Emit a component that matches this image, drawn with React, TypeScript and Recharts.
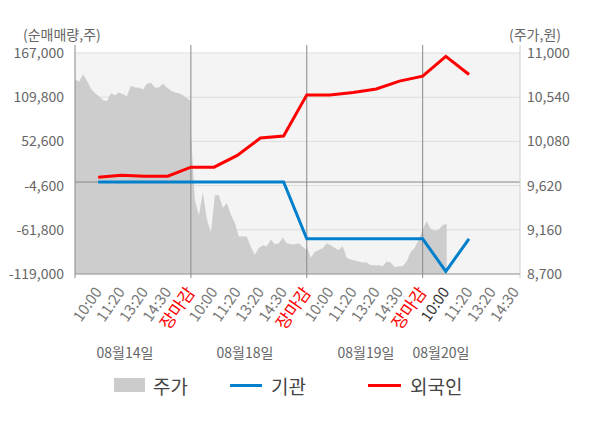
import { ComposedChart, Area, Line, XAxis, YAxis, CartesianGrid, ReferenceLine } from "recharts"

// x position is in "slots": each trading day spans 5 slots (open -> 10:00 -> 11:20 -> 13:20 -> 14:30 -> 장마감)
const dayStarts = [0, 5, 10, 15]
const xEnd = 19.2
const xTickSlots = [1, 2, 3, 4, 5, 6, 7, 8, 9, 10, 11, 12, 13, 14, 15, 16, 17, 18, 19]
const xTickLabels = [
  "10:00", "11:20", "13:20", "14:30", "장마감",
  "10:00", "11:20", "13:20", "14:30", "장마감",
  "10:00", "11:20", "13:20", "14:30", "장마감",
  "10:00", "11:20", "13:20", "14:30",
]
const dateLabels = ["08월14일", "08월18일", "08월19일", "08월20일"]

const volumeTicks = [-119000, -61800, -4600, 52600, 109800, 167000]
const priceTicks = [8700, 9160, 9620, 10080, 10540, 11000]

// intraday price (주가), sampled evenly through each session
const price0814 = [10730, 10700, 10780, 10710, 10630, 10580, 10550, 10510, 10500, 10580, 10560, 10590, 10570, 10550, 10660, 10640, 10640, 10620, 10680, 10690, 10640, 10640, 10680, 10640, 10610, 10590, 10580, 10560, 10530, 10500]
const price0818 = [10190, 9470, 9310, 9550, 9270, 9130, 9520, 9520, 9390, 9440, 9320, 9230, 9090, 9090, 9090, 8980, 8900, 8970, 9000, 8990, 9060, 9010, 9020, 9080, 9020, 9010, 9010, 9020, 8980, 8950]
const price0819 = [8990, 8870, 8930, 8950, 8970, 9020, 9000, 8970, 8950, 8990, 8870, 8850, 8840, 8830, 8820, 8820, 8790, 8790, 8790, 8780, 8830, 8820, 8770, 8780, 8780, 8830, 8930, 8970, 9060, 9160]
const price0820 = [9160, 9250, 9170, 9150, 9160, 9210, 9220]
const samplesPerSession = 30

// cumulative net buying (순매매량)
const flowSlots = [1, 2, 3, 4, 5, 6, 7, 8, 9, 10, 11, 12, 13, 14, 15, 16, 17]
const institution = [0, 0, 0, 0, 0, 0, 0, 0, 0, -73500, -73500, -73500, -73500, -73500, -73500, -115500, -73500]
const foreign = [6200, 8800, 7500, 7500, 19200, 19200, 34500, 57000, 59500, 112800, 112600, 116000, 120500, 130600, 137100, 162600, 139200]

const priceData = [price0814, price0818, price0819, price0820].flatMap((day, d) =>
  day.map((p, i) => ({ k: dayStarts[d] + (i * 5) / (samplesPerSession - 1), price: p }))
)
const institutionData = flowSlots.map((k, i) => ({ k, value: institution[i] }))
const foreignData = flowSlots.map((k, i) => ({ k, value: foreign[i] }))

const FONT = '"Noto Sans CJK KR", "Noto Sans", sans-serif'

const XTick = (props: any) => {
  const { x, y, payload } = props
  const idx = xTickSlots.indexOf(payload.value)
  const label = xTickLabels[idx]
  const isClose = label === "장마감"
  const color = isClose ? "#ff0000" : idx === 15 ? "#333333" : "#777777"
  return (
    <g transform={`translate(${x},${y + 15})`}>
      <text
        textAnchor="end"
        transform="rotate(-55)"
        fontSize={isClose ? 17 : 15}
        fill={color}
        dy="0.35em"
        fontFamily={FONT}
      >
        {label}
      </text>
    </g>
  )
}

const divider = (color: string) => (p: any) => {
  const top = Math.min(p.y1, p.y2)
  const bottom = Math.max(p.y1, p.y2)
  return <line x1={p.x1} x2={p.x2} y1={top - 8} y2={bottom + 4} stroke={color} strokeWidth={1} />
}

export default function App() {
  return (
    <div style={{ position: "absolute", left: 0, top: 0, width: 600, height: 428, fontFamily: FONT, background: "#fff" }}>
      <div style={{ position: "absolute", left: 23, top: 24, fontSize: 14, color: "#666" }}>(순매매량,주)</div>
      <div style={{ position: "absolute", left: 509, top: 24, fontSize: 14, color: "#666" }}>(주가,원)</div>

      <ComposedChart width={600} height={428} margin={{ top: 53, right: 0, bottom: 0, left: 0 }}>
        <CartesianGrid yAxisId="left" vertical={false} stroke="#dddddd" fill="#f4f4f4" />
        <XAxis
          dataKey="k"
          type="number"
          domain={[0, xEnd]}
          ticks={xTickSlots}
          interval={0}
          allowDataOverflow
          height={154}
          tickLine={false}
          tickSize={0}
          tickMargin={0}
          axisLine={{ stroke: "#999999" }}
          tick={<XTick />}
        />
        <YAxis
          yAxisId="left"
          width={75}
          domain={[-119000, 167000]}
          ticks={volumeTicks}
          interval={0}
          axisLine={false}
          tickLine={false}
          tickMargin={5}
          tick={{ fill: "#666666", fontSize: 14, fontFamily: FONT }}
          tickFormatter={(v) => v.toLocaleString("en-US")}
        />
        <YAxis
          yAxisId="right"
          orientation="right"
          width={80}
          domain={[8700, 11000]}
          ticks={priceTicks}
          interval={0}
          axisLine={false}
          tickLine={false}
          tickMargin={1}
          tick={{ fill: "#666666", fontSize: 14, fontFamily: FONT, textAnchor: "start" }}
          tickFormatter={(v) => v.toLocaleString("en-US")}
        />
        <Area
          yAxisId="right"
          data={priceData}
          dataKey="price"
          type="linear"
          stroke="none"
          fill="#cdcdcd"
          fillOpacity={1}
          isAnimationActive={false}
        />
        <ReferenceLine yAxisId="left" y={0} stroke="#888888" />
        {dayStarts.map((d) => (
          <ReferenceLine key={d} yAxisId="left" x={d} shape={divider("#888888")} />
        ))}
        <ReferenceLine yAxisId="left" x={xEnd} shape={divider("#d0d0d0")} />
        <Line
          yAxisId="left"
          data={institutionData}
          dataKey="value"
          type="linear"
          stroke="#0080cc"
          strokeWidth={3}
          dot={false}
          isAnimationActive={false}
        />
        <Line
          yAxisId="left"
          data={foreignData}
          dataKey="value"
          type="linear"
          stroke="#ff0000"
          strokeWidth={3}
          dot={false}
          isAnimationActive={false}
        />
      </ComposedChart>

      {dateLabels.map((t, i) => (
        <div
          key={t}
          style={{
            position: "absolute",
            left: [125, 245, 366, 441][i],
            top: 342,
            transform: "translateX(-50%)",
            fontSize: 14,
            color: "#666",
            whiteSpace: "nowrap",
          }}
        >
          {t}
        </div>
      ))}

      <div style={{ position: "absolute", left: 114, top: 378, width: 31, height: 14, background: "#cccccc" }} />
      <div style={{ position: "absolute", left: 153, top: 372, fontSize: 19, color: "#444" }}>주가</div>
      <div style={{ position: "absolute", left: 230, top: 384, width: 32, height: 3, background: "#0080cc" }} />
      <div style={{ position: "absolute", left: 271, top: 372, fontSize: 19, color: "#444" }}>기관</div>
      <div style={{ position: "absolute", left: 368, top: 384, width: 33, height: 3, background: "#ff0000" }} />
      <div style={{ position: "absolute", left: 410, top: 372, fontSize: 19, color: "#444" }}>외국인</div>
    </div>
  )
}
